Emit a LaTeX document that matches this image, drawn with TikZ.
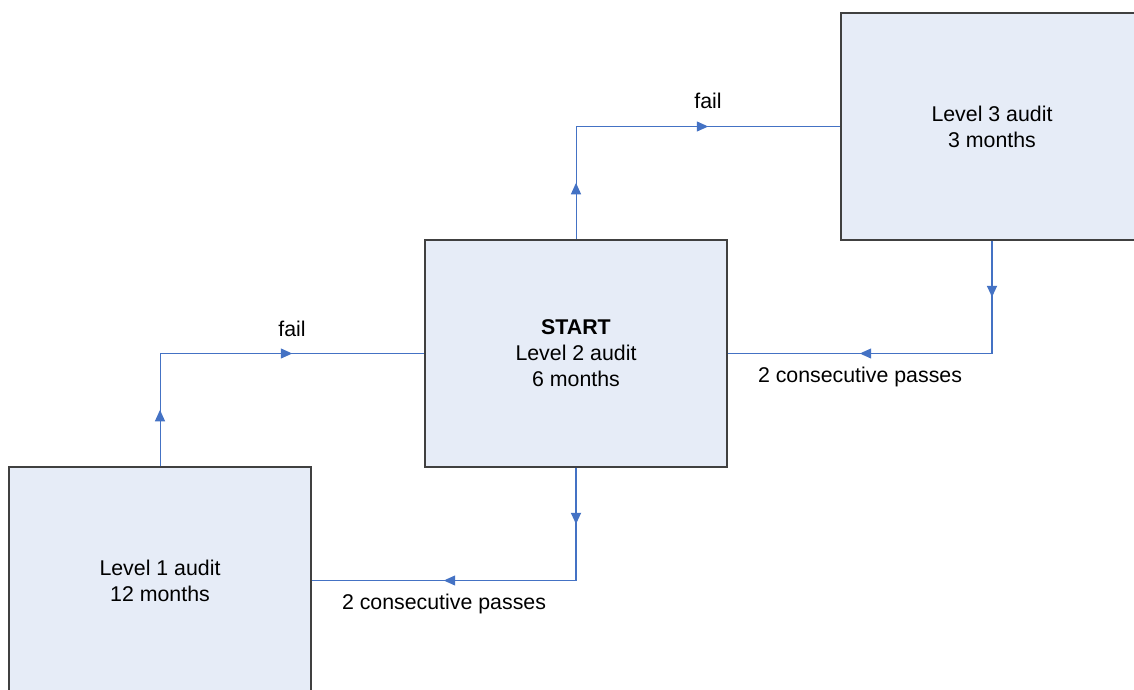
\documentclass[tikz,border=0pt]{standalone}
\usepackage{fontspec}
\setmainfont{Liberation Sans}
\usetikzlibrary{arrows.meta,decorations.markings}
\definecolor{boxfill}{HTML}{E6ECF7}
\definecolor{boxline}{HTML}{404040}
\definecolor{flowblue}{HTML}{4472C4}
\tikzset{
  auditbox/.style={draw=boxline, line width=1pt, fill=boxfill, minimum width=226.5pt, minimum height=170.25pt, inner sep=0pt, align=center, font=\fontsize{16}{19.5}\selectfont},
  flow/.style={draw=flowblue, line width=0.75pt, postaction={decorate}, decoration={markings, mark=at position 0.5 with {\arrow{Triangle[length=8.5pt,width=7.5pt]}}}},
  lbl/.style={font=\fontsize{16}{19}\selectfont, inner sep=0pt}
}
\begin{document}
\begin{tikzpicture}[x=0.75pt,y=-0.75pt]
\useasboundingbox[fill=white] (0,0) rectangle (1134,689);
\node[auditbox] (l1) at (160,580.5) {Level 1 audit\\12 months};
\node[auditbox] (l2) at (576,353.5) {\textbf{START}\\Level 2 audit\\6 months};
\node[auditbox] (l3) at (992,126.5) {Level 3 audit\\3 months};
% Level 1 -> Level 2 (fail)
\coordinate (c1) at (160,353.5);
\draw[flow] (l1.north) -- (c1);
\draw[flow] (c1) -- (l2.west);
\node[lbl] (f1) at (292,329) {fail};
% Level 2 -> Level 3 (fail)
\coordinate (c2) at (576,126.5);
\draw[flow] (l2.north) -- (c2);
\draw[flow] (c2) -- (l3.west);
\node[lbl] (f2) at (708,101) {fail};
% Level 3 -> Level 2 (passes)
\coordinate (c3) at (992,353.5);
\draw[flow,line width=1.3pt] (l3.south) -- (c3);
\draw[flow] (c3) -- (l2.east);
\node[lbl] (p1) at (860,377) {2 consecutive passes};
% Level 2 -> Level 1 (passes)
\coordinate (c4) at (576,580.5);
\draw[flow,line width=1.3pt] (l2.south) -- (c4);
\draw[flow] (c4) -- (l1.east);
\node[lbl] (p2) at (444,604) {2 consecutive passes};
\end{tikzpicture}
\end{document}
